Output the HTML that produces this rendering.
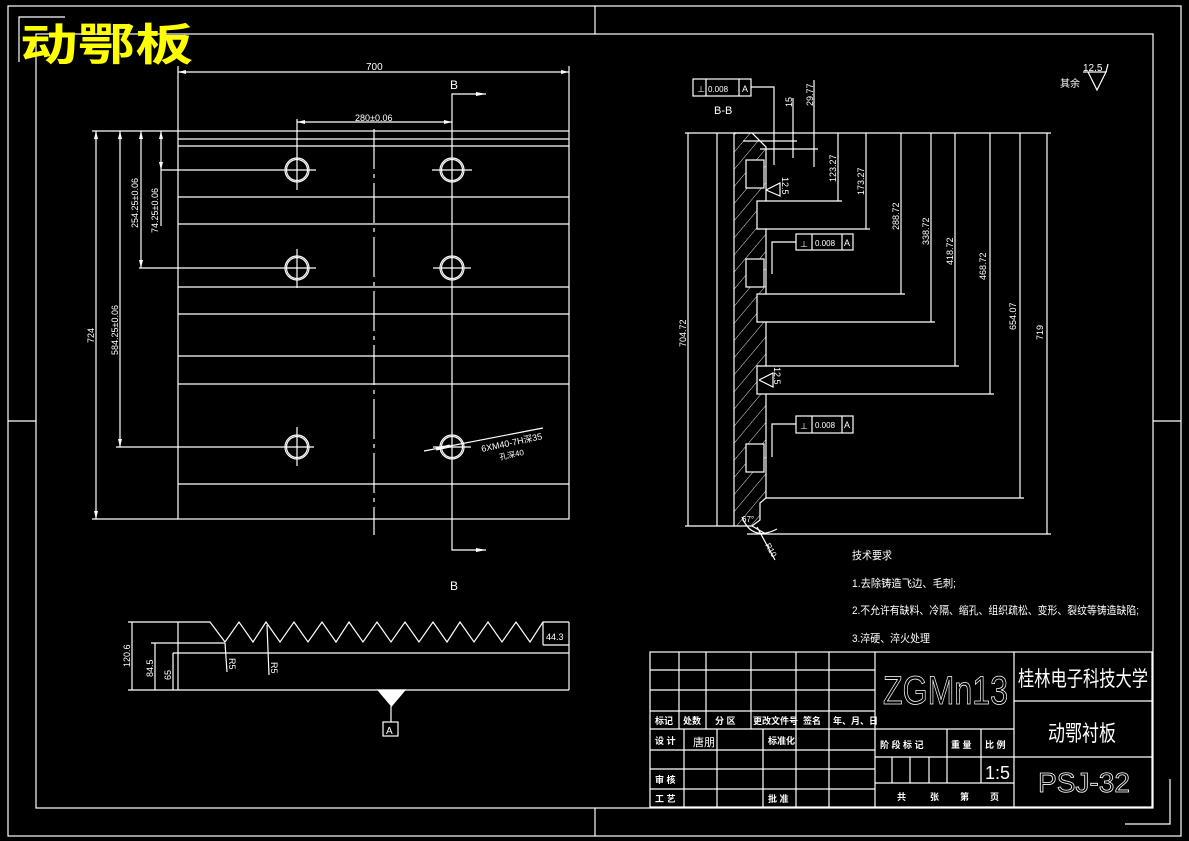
<!DOCTYPE html>
<html><head><meta charset="utf-8"><style>
html,body{margin:0;padding:0;background:#000;}
svg{display:block}
text{font-family:"Liberation Sans","Noto Sans CJK SC",sans-serif;fill:#fff}
</style></head><body>
<svg width="1189" height="841" viewBox="0 0 1189 841" xmlns="http://www.w3.org/2000/svg">
<defs>
<pattern id="h" width="11" height="11" patternUnits="userSpaceOnUse" patternTransform="rotate(40)">
<line x1="0" y1="0" x2="0" y2="11" stroke="#fff" stroke-width="0.9"/>
</pattern>
</defs>
<g stroke="#fff" fill="none" stroke-width="1.2">
<rect x="8" y="6" width="1173" height="830"/>
<rect x="36" y="34" width="1117" height="774"/>
<polyline points="65,17 19,17 19,62"/>
<polyline points="1125,824 1170,824 1170,779"/>
<line x1="595" y1="6" x2="595" y2="34"/><line x1="595" y1="808" x2="595" y2="836"/>
<line x1="8" y1="421" x2="36" y2="421"/><line x1="1153" y1="421" x2="1181" y2="421"/>

<rect x="178" y="131" width="391" height="388"/>
<g>
<line x1="178" y1="139" x2="569" y2="139"/><line x1="178" y1="146" x2="569" y2="146"/>
<line x1="178" y1="197" x2="569" y2="197"/><line x1="178" y1="224" x2="569" y2="224"/>
<line x1="178" y1="287" x2="569" y2="287"/><line x1="178" y1="314" x2="569" y2="314"/>
<line x1="178" y1="356" x2="569" y2="356"/><line x1="178" y1="384" x2="569" y2="384"/>
<line x1="178" y1="484" x2="569" y2="484"/>
</g>
<line x1="92" y1="131" x2="178" y2="131"/><line x1="92" y1="519" x2="178" y2="519"/>
<line x1="178" y1="131" x2="178" y2="66"/><line x1="569" y1="131" x2="569" y2="66"/>
<line x1="178" y1="72" x2="569" y2="72"/>
<line x1="374" y1="129" x2="374" y2="535" stroke-dasharray="40,5,4,5"/>
<polyline points="486,94 452,94 452,550 486,550"/>
<g fill="#fff" stroke="none"><path d="M486,94 l-10,-2 v4z M486,550 l-10,-2 v4z M178,72 l8,-2 v4z M569,72 l-8,-2 v4z M297,122 l8,-2 v4z M452,122 l-8,-2 v4z"/></g>
<line x1="297" y1="119" x2="297" y2="190"/>
<line x1="297" y1="122" x2="452" y2="122"/>
<g>
<circle cx="297" cy="170" r="12"/><circle cx="297" cy="170" r="10.5"/>
<circle cx="452" cy="170" r="12"/><circle cx="452" cy="170" r="10.5"/>
<circle cx="297" cy="268" r="12"/><circle cx="297" cy="268" r="10.5"/>
<circle cx="452" cy="268" r="12"/><circle cx="452" cy="268" r="10.5"/>
<circle cx="297" cy="447" r="12"/><circle cx="297" cy="447" r="10.5"/>
<circle cx="452" cy="447" r="12"/><circle cx="452" cy="447" r="10.5"/>
<line x1="297" y1="249" x2="297" y2="288"/><line x1="297" y1="427" x2="297" y2="466"/>
<line x1="432" y1="170" x2="472" y2="170"/><line x1="433" y1="268" x2="471" y2="268"/>
<line x1="433" y1="447" x2="471" y2="447"/>
</g>
<line x1="161" y1="170" x2="316" y2="170"/>
<line x1="139" y1="268" x2="316" y2="268"/>
<line x1="116" y1="447" x2="314" y2="447"/>
<line x1="96" y1="131" x2="96" y2="519"/>
<line x1="120" y1="131" x2="120" y2="447"/>
<line x1="141" y1="131" x2="141" y2="268"/>
<line x1="161" y1="131" x2="161" y2="226"/>
<g fill="#fff" stroke="none"><path d="M96,131 l-2,8 h4z M96,519 l-2,-8 h4z M120,131 l-2,8 h4z M120,447 l-2,-8 h4z M141,131 l-2,8 h4z M141,268 l-2,-8 h4z M161,131 l-2,8 h4z M161,170 l-2,-8 h4z"/></g>
<line x1="424" y1="451" x2="543" y2="428"/>
<line x1="436" y1="449" x2="450" y2="446" stroke-width="3"/>

<polyline points="178,622 210,622 225,642 239,622 253,642 266,622 280,642 294,622 308,642 322,622 336,642 349,622 363,642 377,622 391,642 405,622 419,642 433,622 447,642 460,622 474,642 488,622 502,642 516,622 530,642 543,622 569,622"/>
<line x1="128" y1="622" x2="178" y2="622"/>
<line x1="178" y1="622" x2="178" y2="690"/>
<line x1="569" y1="622" x2="569" y2="690"/>
<line x1="128" y1="690" x2="569" y2="690"/>
<line x1="173" y1="653" x2="569" y2="653"/>
<line x1="151" y1="643" x2="225" y2="643"/>
<line x1="543" y1="622" x2="543" y2="645"/><line x1="543" y1="645" x2="569" y2="645"/>
<line x1="132" y1="622" x2="132" y2="690"/><line x1="155" y1="643" x2="155" y2="690"/><line x1="173" y1="653" x2="173" y2="690"/>
<line x1="225" y1="643" x2="227" y2="672"/><line x1="267" y1="625" x2="269" y2="675"/>
<path d="M378,690 h27 l-13.5,16z" fill="#fff"/>
<line x1="391" y1="706" x2="391" y2="722"/>
<rect x="383" y="722" width="15" height="14"/>

<line x1="685" y1="133" x2="1051" y2="133"/>
<line x1="747" y1="534" x2="1051" y2="534"/>
<line x1="685" y1="526" x2="734" y2="526"/>
<line x1="717" y1="133" x2="717" y2="526"/>
<polygon points="734,133 752,133 766,147 766,201 757,201 757,229 766,229 766,294 757,294 757,322 766,322 766,366 757,366 757,394 766,394 766,498 760,503 760,520 752,526 734,526" fill="url(#h)"/>
<line x1="752" y1="526" x2="766" y2="534"/>
<g>
<rect x="746" y="160" width="18" height="28" fill="#000"/><rect x="746" y="259" width="18" height="28" fill="#000"/><rect x="746" y="444" width="18" height="28" fill="#000"/>
</g>
<line x1="688" y1="133" x2="688" y2="526"/>
<line x1="766" y1="201" x2="842" y2="201"/><line x1="838" y1="133" x2="838" y2="201"/>
<line x1="766" y1="229" x2="870" y2="229"/><line x1="866" y1="133" x2="866" y2="229"/>
<line x1="766" y1="294" x2="905" y2="294"/><line x1="901" y1="133" x2="901" y2="294"/>
<line x1="766" y1="322" x2="935" y2="322"/><line x1="931" y1="133" x2="931" y2="322"/>
<line x1="766" y1="366" x2="959" y2="366"/><line x1="955" y1="133" x2="955" y2="366"/>
<line x1="766" y1="394" x2="994" y2="394"/><line x1="990" y1="133" x2="990" y2="394"/>
<line x1="766" y1="498" x2="1024" y2="498"/><line x1="1020" y1="133" x2="1020" y2="498"/>
<line x1="1047" y1="133" x2="1047" y2="534"/>
<line x1="793" y1="98" x2="793" y2="158"/><line x1="814" y1="80" x2="814" y2="167"/>
<line x1="743" y1="141" x2="797" y2="141"/><line x1="760" y1="149" x2="818" y2="149"/>
<rect x="693" y="79" width="58" height="17"/><line x1="706" y1="79" x2="706" y2="96"/><line x1="739" y1="79" x2="739" y2="96"/>
<polyline points="751,87 774,87 774,165"/>
<rect x="796" y="234" width="57" height="16"/><line x1="812" y1="234" x2="812" y2="250"/><line x1="842" y1="234" x2="842" y2="250"/>
<polyline points="796,242 772,242 772,274"/>
<rect x="796" y="416" width="57" height="17"/><line x1="812" y1="416" x2="812" y2="433"/><line x1="842" y1="416" x2="842" y2="433"/>
<polyline points="796,424 772,424 772,457"/>
<polyline points="766,190 780,183 780,196 766,190"/>
<polyline points="759,380 773,373 773,387 759,380"/>
<path d="M742,517 q10,25 35,12"/><line x1="757" y1="527" x2="775" y2="560"/>
<polyline points="1083,72 1106,72 1097,90 1088,72"/>
<line x1="1106" y1="72" x2="1108" y2="64"/>

<rect x="650" y="652" width="502" height="155"/>
<line x1="875" y1="652" x2="875" y2="807"/><line x1="1014" y1="652" x2="1014" y2="807"/>
<line x1="650" y1="670" x2="875" y2="670"/><line x1="650" y1="690" x2="875" y2="690"/>
<line x1="650" y1="711" x2="875" y2="711"/><line x1="650" y1="729" x2="1014" y2="729"/>
<line x1="650" y1="750" x2="875" y2="750"/><line x1="650" y1="769" x2="875" y2="769"/>
<line x1="650" y1="789" x2="875" y2="789"/>
<line x1="679" y1="652" x2="679" y2="729"/><line x1="706" y1="652" x2="706" y2="729"/>
<line x1="751" y1="652" x2="751" y2="729"/><line x1="796" y1="652" x2="796" y2="807"/>
<line x1="829" y1="652" x2="829" y2="807"/>
<line x1="684" y1="729" x2="684" y2="807"/><line x1="717" y1="729" x2="717" y2="807"/>
<line x1="763" y1="729" x2="763" y2="807"/>
<line x1="875" y1="757" x2="1014" y2="757"/><line x1="875" y1="783" x2="1014" y2="783"/>
<line x1="947" y1="729" x2="947" y2="783"/><line x1="981" y1="729" x2="981" y2="783"/>
<line x1="892" y1="757" x2="892" y2="783"/><line x1="910" y1="757" x2="910" y2="783"/><line x1="929" y1="757" x2="929" y2="783"/>
<line x1="1014" y1="701" x2="1152" y2="701"/><line x1="1014" y1="757" x2="1152" y2="757"/>
</g>

<text x="20" y="60" font-size="44" textLength="173" lengthAdjust="spacingAndGlyphs" style="fill:#ff0" font-family="'Noto Serif CJK SC','Noto Sans CJK SC',serif" font-weight="bold">动鄂板</text>
<g font-size="10">
<text x="366" y="70">700</text>
<text x="355" y="121" font-size="9">280±0.06</text>
<text x="450" y="89" font-size="12">B</text>
<text x="450" y="590" font-size="12">B</text>
<text transform="translate(94,343) rotate(-90)" font-size="9">724</text>
<text transform="translate(118,355) rotate(-90)" font-size="9">584.25±0.06</text>
<text transform="translate(138,228) rotate(-90)" font-size="9">254.25±0.06</text>
<text transform="translate(158,233) rotate(-90)" font-size="9">74.25±0.06</text>
<text transform="translate(482,452) rotate(-12)" font-size="9">6XM40-7H深35</text>
<text transform="translate(500,460) rotate(-12)" font-size="8">孔深40</text>
<text transform="translate(130,667) rotate(-90)" font-size="9">120.6</text>
<text transform="translate(153,677) rotate(-90)" font-size="9">84.5</text>
<text transform="translate(171,680) rotate(-90)" font-size="9">65</text>
<text transform="translate(229,658) rotate(90)" font-size="9">R5</text>
<text transform="translate(271,662) rotate(90)" font-size="9">R5</text>
<text x="546" y="640" font-size="9">44.3</text>
<text x="386" y="734" font-size="10">A</text>

<text x="697" y="92" font-size="8">⊥</text><text x="708" y="92" font-size="8">0.008</text><text x="742" y="92" font-size="9">A</text>
<text x="800" y="247" font-size="8">⊥</text><text x="815" y="246" font-size="8">0.008</text><text x="844" y="246" font-size="9">A</text>
<text x="800" y="429" font-size="8">⊥</text><text x="815" y="428" font-size="8">0.008</text><text x="844" y="428" font-size="9">A</text>
<text x="714" y="114" font-size="11">B-B</text>
<text transform="translate(792,107) rotate(-90)" font-size="9">15</text>
<text transform="translate(813,106) rotate(-90)" font-size="9">29.77</text>
<text transform="translate(836,182) rotate(-90)" font-size="9">123.27</text>
<text transform="translate(864,195) rotate(-90)" font-size="9">173.27</text>
<text transform="translate(899,230) rotate(-90)" font-size="9">288.72</text>
<text transform="translate(929,245) rotate(-90)" font-size="9">338.72</text>
<text transform="translate(953,265) rotate(-90)" font-size="9">418.72</text>
<text transform="translate(986,280) rotate(-90)" font-size="9">468.72</text>
<text transform="translate(1016,330) rotate(-90)" font-size="9">654.07</text>
<text transform="translate(1043,340) rotate(-90)" font-size="9">719</text>
<text transform="translate(686,347) rotate(-90)" font-size="9">704.72</text>
<text transform="translate(782,177) rotate(90)" font-size="9">12.5</text>
<text transform="translate(774,367) rotate(90)" font-size="9">12.5</text>
<text transform="translate(765,545) rotate(60)" font-size="8">R10</text>
<text x="742" y="522" font-size="8">67°</text>
<text x="1060" y="87" font-size="10">其余</text>
<text x="1083" y="71" font-size="10">12.5</text>

<text x="852" y="559" font-size="11" textLength="40" lengthAdjust="spacingAndGlyphs">技术要求</text>
<text x="852" y="587" font-size="11" textLength="104" lengthAdjust="spacingAndGlyphs">1.去除铸造飞边、毛刺;</text>
<text x="852" y="614" font-size="11" textLength="287" lengthAdjust="spacingAndGlyphs">2.不允许有缺料、冷隔、缩孔、组织疏松、变形、裂纹等铸造缺陷;</text>
<text x="852" y="642" font-size="11" textLength="78" lengthAdjust="spacingAndGlyphs">3.淬硬、淬火处理</text>

<text x="883" y="704" font-size="40" textLength="125" lengthAdjust="spacingAndGlyphs" style="fill:none;stroke:#fff;stroke-width:0.8">ZGMn13</text>
<text x="1018" y="686" font-size="21" textLength="130" lengthAdjust="spacingAndGlyphs">桂林电子科技大学</text>
<text x="1048" y="741" font-size="22" textLength="68" lengthAdjust="spacingAndGlyphs">动鄂衬板</text>
<text x="1038" y="792" font-size="28" textLength="92" lengthAdjust="spacingAndGlyphs" style="fill:none;stroke:#fff;stroke-width:0.8">PSJ-32</text>
<text x="985" y="779" font-size="18">1:5</text>
<g font-size="9" font-weight="bold">
<text x="655" y="724">标记</text><text x="683" y="724">处数</text><text x="715" y="724">分 区</text>
<text x="753" y="724">更改文件号</text><text x="803" y="724">签名</text><text x="833" y="724">年、月、日</text>
<text x="655" y="744">设 计</text><text x="693" y="746" font-size="11" font-weight="normal">唐朋</text><text x="768" y="744">标准化</text>
<text x="655" y="783">审 核</text><text x="655" y="802">工 艺</text><text x="768" y="802">批 准</text>
<text x="880" y="748">阶 段 标 记</text><text x="951" y="748">重 量</text><text x="985" y="748">比 例</text>
<text x="897" y="800">共</text><text x="930" y="800">张</text><text x="960" y="800">第</text><text x="990" y="800">页</text>
</g>
</g>
</svg>
</body></html>
